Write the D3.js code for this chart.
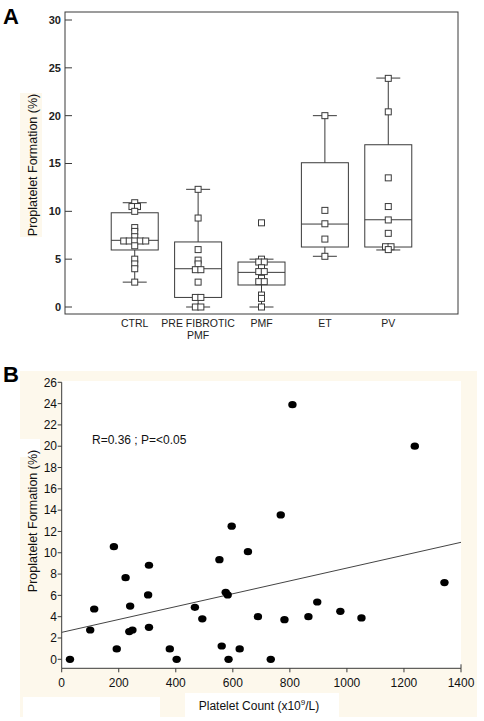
<!DOCTYPE html>
<html><head><meta charset="utf-8">
<script src="https://cdn.jsdelivr.net/npm/d3@7"></script>
<style>
html,body{margin:0;padding:0;background:#fff;}
svg{display:block;font-family:"Liberation Sans",Arial,Helvetica,sans-serif;}
</style></head>
<body>
<svg id="chart" width="484" height="721"></svg>
<script>
// ---------- Panel A data ----------
const categories = ["CTRL", "PRE FIBROTIC|PMF", "PMF", "ET", "PV"];
const ctrlValues = [10.9, 10.5, 10.5, 10.0, 8.3, 7.9, 7.35, 6.9, 6.9, 6.9, 6.9, 6.9, 6.4, 5.0, 4.5, 4.0, 2.6];
const preFibroticValues = [12.3, 9.3, 6.0, 4.9, 4.5, 3.9, 3.9, 2.6, 1.0, 1.0, 0, 0];
const pmfValues = [8.8, 5.0, 4.7, 4.7, 4.1, 3.7, 3.7, 3.0, 2.65, 2.65, 1.25, 0.9, 0];
const etValues = [20.0, 10.1, 8.7, 7.1, 5.3];
const pvValues = [23.9, 20.4, 13.5, 10.5, 9.1, 7.7, 6.3, 6.3, 6.0];
const whiskerLow  = [2.6, 0.0, 0.0, 5.3, 5.96];
const quartile1   = [5.96, 1.0, 2.3, 6.27, 6.27];
const medians     = [6.97, 4.0, 3.62, 8.67, 9.12];
const quartile3   = [9.85, 6.8, 4.7, 15.08, 16.96];
const whiskerHigh = [10.9, 12.3, 5.0, 20.0, 23.93];
const yTicksA = [0, 5, 10, 15, 20, 25, 30];

// ---------- Panel B data ----------
const plateletCount = [29, 100, 114, 183, 193, 224, 240, 237, 248, 303, 306, 306, 379, 403, 467, 493, 553, 561, 575, 582, 585, 624,
  653, 688, 733, 781, 865, 896, 977, 1051, 1342, 809, 1238, 768, 596];
const proplateletPct = [0, 2.75, 4.72, 10.57, 0.97, 7.66, 5.0, 2.6, 2.75, 6.04, 8.83, 3.0, 0.97, 0, 4.88, 3.8, 9.35, 1.25, 6.29, 6.04, 0, 0.97,
  10.1, 4.0, 0, 3.72, 4.0, 5.38, 4.5, 3.88, 7.2, 23.9, 20.0, 13.55, 12.5];
const regIntercept = 2.53;
const regSlope = 0.006036;
const xTicksB = [0, 200, 400, 600, 800, 1000, 1200, 1400];
const yTicksB = [0, 2, 4, 6, 8, 10, 12, 14, 16, 18, 20, 22, 24, 26];

const svg = d3.select("#chart");
const ink = "#3a3a3a";
const txt = "#111";

// ================= PANEL A =================
const groups = [ctrlValues, preFibroticValues, pmfValues, etValues, pvValues];
const A = {left: 65, right: 458, top: 12, bottom: 314};
const yA = d3.scaleLinear().domain([0, 30]).range([307, 20]);
const xA = d3.scalePoint().domain(categories).range([A.left, A.right]).padding(1.1);

svg.append("text").attr("x", 3).attr("y", 24).attr("font-size", 22).attr("font-weight", "bold").attr("fill", "#000").text("A");

// y label with cream background
svg.append("rect").attr("x", 20).attr("y", 93).attr("width", 22).attr("height", 144).attr("fill", "#fdf8ec");
svg.append("text").attr("transform", `translate(37,165) rotate(-90)`).attr("text-anchor", "middle")
  .attr("font-size", 12.5).attr("fill", txt).text("Proplatelet Formation (%)");

// frame
svg.append("rect").attr("x", A.left).attr("y", A.top).attr("width", A.right - A.left).attr("height", A.bottom - A.top)
  .attr("fill", "none").attr("stroke", ink).attr("stroke-width", 1);

// y axis ticks (inside) and labels
const gyA = svg.append("g");
yTicksA.forEach(t => {
  gyA.append("line").attr("x1", A.left).attr("x2", A.left + 7).attr("y1", yA(t)).attr("y2", yA(t)).attr("stroke", ink);
  gyA.append("text").attr("x", 61).attr("y", yA(t)).attr("dy", "0.35em").attr("text-anchor", "end")
    .attr("font-size", 11).attr("font-weight", "bold").attr("fill", "#222").text(t);
});

// category labels
categories.forEach(c => {
  const lines = c.split("|");
  const t = svg.append("text").attr("text-anchor", "middle").attr("font-size", 10.5).attr("fill", "#222");
  lines.forEach((l, i) => t.append("tspan").attr("x", xA(c)).attr("y", 327 + i * 12).text(l));
});

const boxW = 47, capW = 24;
categories.forEach((c, i) => {
  const cx = xA(c);
  const g = svg.append("g");
  // whiskers
  g.append("line").attr("x1", cx).attr("x2", cx).attr("y1", yA(whiskerHigh[i])).attr("y2", yA(quartile3[i])).attr("stroke", ink);
  g.append("line").attr("x1", cx).attr("x2", cx).attr("y1", yA(quartile1[i])).attr("y2", yA(whiskerLow[i])).attr("stroke", ink);
  g.append("line").attr("x1", cx - capW / 2).attr("x2", cx + capW / 2).attr("y1", yA(whiskerHigh[i])).attr("y2", yA(whiskerHigh[i])).attr("stroke", ink);
  g.append("line").attr("x1", cx - capW / 2).attr("x2", cx + capW / 2).attr("y1", yA(whiskerLow[i])).attr("y2", yA(whiskerLow[i])).attr("stroke", ink);
  // box
  g.append("rect").attr("x", cx - boxW / 2).attr("y", yA(quartile3[i])).attr("width", boxW)
    .attr("height", yA(quartile1[i]) - yA(quartile3[i])).attr("fill", "none").attr("stroke", ink);
  g.append("line").attr("x1", cx - boxW / 2).attr("x2", cx + boxW / 2).attr("y1", yA(medians[i])).attr("y2", yA(medians[i])).attr("stroke", ink);
  // points: cluster near-identical values and spread horizontally
  const vals = groups[i].slice().sort((a, b) => b - a);
  const clusters = [];
  vals.forEach(v => {
    const last = clusters[clusters.length - 1];
    if (last && Math.abs(last[last.length - 1] - v) < 0.25) last.push(v); else clusters.push([v]);
  });
  const step = 5.5, sz = 6;
  clusters.forEach(cl => {
    cl.forEach((v, k) => {
      const off = (k - (cl.length - 1) / 2) * step;
      g.append("rect").attr("x", cx + off - sz / 2).attr("y", yA(v) - sz / 2).attr("width", sz).attr("height", sz)
        .attr("fill", "#fff").attr("stroke", ink).attr("stroke-width", 1);
    });
  });
});

// ================= PANEL B =================
const cream = "#fdf8ec";
svg.append("rect").attr("x", 20).attr("y", 371).attr("width", 457).attr("height", 346).attr("fill", cream);
svg.append("rect").attr("x", 62).attr("y", 381).attr("width", 399).attr("height", 287).attr("fill", "#fff");
svg.append("rect").attr("x", 20).attr("y", 439).attr("width", 20).attr("height", 18).attr("fill", "#fff");
svg.append("rect").attr("x", 23).attr("y", 697).attr("width", 137).attr("height", 20).attr("fill", "#fff");
svg.append("rect").attr("x", 185).attr("y", 693).attr("width", 154).attr("height", 24).attr("fill", "#fff");

svg.append("text").attr("x", 3).attr("y", 382).attr("font-size", 22).attr("font-weight", "bold").attr("fill", "#000").text("B");

const xB = d3.scaleLinear().domain([0, 1400]).range([61.7, 461]);
const yB = d3.scaleLinear().domain([0, 26]).range([659.3, 382.3]);
const axisY = 668.3;

// axes lines
svg.append("line").attr("x1", xB(0)).attr("x2", xB(0)).attr("y1", yB(26)).attr("y2", axisY).attr("stroke", ink);
svg.append("line").attr("x1", xB(0)).attr("x2", xB(1400)).attr("y1", axisY).attr("y2", axisY).attr("stroke", ink);
yTicksB.forEach(t => {
  svg.append("line").attr("x1", xB(0) - 4).attr("x2", xB(0)).attr("y1", yB(t)).attr("y2", yB(t)).attr("stroke", ink);
  svg.append("text").attr("x", 57).attr("y", yB(t)).attr("dy", "0.35em").attr("text-anchor", "end")
    .attr("font-size", 12).attr("fill", txt).text(t);
});
xTicksB.forEach(t => {
  svg.append("line").attr("x1", xB(t)).attr("x2", xB(t)).attr("y1", axisY).attr("y2", axisY + 4).attr("stroke", ink);
  svg.append("text").attr("x", xB(t)).attr("y", 682.5).attr("dy", "0.35em").attr("text-anchor", "middle")
    .attr("font-size", 12).attr("fill", txt).text(t);
});
svg.append("line").attr("x1", xB(1400)).attr("x2", xB(1400)).attr("y1", axisY).attr("y2", axisY - 4).attr("stroke", ink);

// axis titles
svg.append("text").attr("transform", "translate(37,521) rotate(-90)").attr("text-anchor", "middle")
  .attr("font-size", 12.5).attr("fill", txt).text("Proplatelet Formation (%)");
const xt = svg.append("text").attr("x", 259).attr("y", 710).attr("text-anchor", "middle").attr("font-size", 12).attr("fill", txt);
xt.append("tspan").text("Platelet Count  (x10");
xt.append("tspan").attr("font-size", 8).attr("dy", -5).text("9");
xt.append("tspan").attr("dy", 5).text("/L)");

// annotation
svg.append("text").attr("x", 92).attr("y", 444).attr("font-size", 12).attr("fill", txt).text("R=0.36 ; P=<0.05");

// regression line
svg.append("line").attr("x1", xB(0)).attr("y1", yB(regIntercept)).attr("x2", xB(1400)).attr("y2", yB(regIntercept + regSlope * 1400))
  .attr("stroke", "#444").attr("stroke-width", 1);

// points
svg.append("g").selectAll("ellipse").data(plateletCount.map((d, i) => [d, proplateletPct[i]])).join("ellipse")
  .attr("cx", d => xB(d[0])).attr("cy", d => yB(d[1])).attr("rx", 4.2).attr("ry", 3.6).attr("fill", "#000");
</script>
</body></html>
